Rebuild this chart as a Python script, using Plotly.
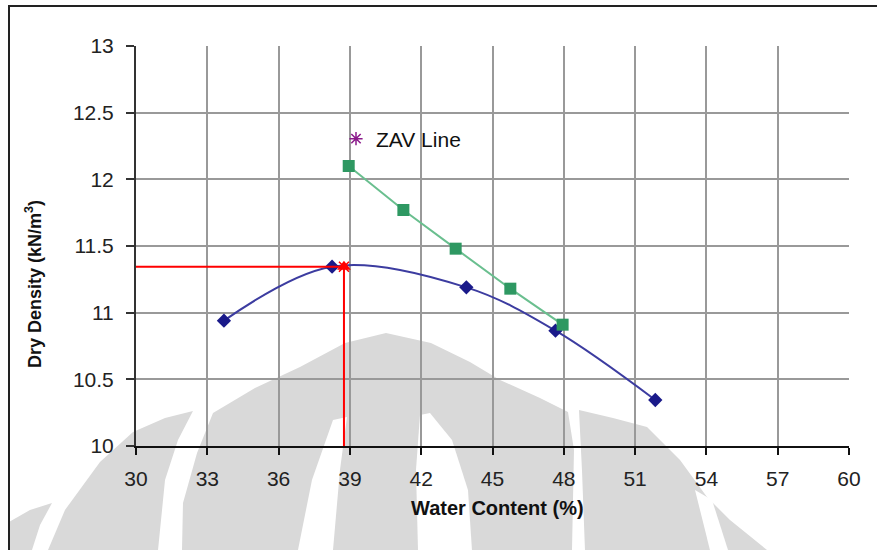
import plotly.graph_objects as go

# Compaction test results
water_content = [33.7, 38.25, 43.9, 47.65, 51.85]
dry_density = [10.94, 11.345, 11.19, 10.865, 10.345]

# Zero-air-voids line
zav_water = [38.95, 41.25, 43.45, 45.75, 47.95]
zav_density = [12.10, 11.77, 11.48, 11.18, 10.91]

# Optimum point
omc = 38.75
mdd = 11.345

x_ticks = [30, 33, 36, 39, 42, 45, 48, 51, 54, 57, 60]
y_ticks = [10, 10.5, 11, 11.5, 12, 12.5, 13]

W, H = 877, 550
L, R, T, B = 136, 28, 46, 104
PW, PH = W - L - R, H - T - B

FONT = "Arial, Liberation Sans, sans-serif"


def px(x, y):
    return (x - L) / PW, 1 - (y - T) / PH


def poly(points, color):
    pts = [px(x, y) for x, y in points]
    path = "M " + " L ".join(f"{a:.4f},{b:.4f}" for a, b in pts) + " Z"
    return dict(type="path", xref="paper", yref="paper", path=path,
                fillcolor=color, line=dict(width=0), layer="below")


fig = go.Figure()

fig.add_trace(go.Scatter(
    x=water_content, y=dry_density, mode="lines+markers",
    line=dict(color="#3c3ca0", width=2, shape="spline", smoothing=1.0),
    marker=dict(symbol="diamond", size=11, color="#1a1a8a"),
    showlegend=False,
))

fig.add_trace(go.Scatter(
    x=zav_water, y=zav_density, mode="lines+markers",
    line=dict(color="#6abf8f", width=2),
    marker=dict(symbol="square", size=12, color="#2e9862"),
    showlegend=False,
))

# Guide lines to the optimum point
fig.add_trace(go.Scatter(
    x=[x_ticks[0], omc, omc], y=[mdd, mdd, y_ticks[0]], mode="lines",
    line=dict(color="#ff0000", width=2), showlegend=False,
))
fig.add_trace(go.Scatter(
    x=[omc], y=[mdd], mode="markers",
    marker=dict(symbol="triangle-up", size=12, color="#ff0000"),
    showlegend=False,
))
fig.add_trace(go.Scatter(
    x=[omc], y=[mdd], mode="markers",
    marker=dict(symbol="x-thin-open", size=10, color="#ff0000",
                line=dict(color="#ff0000", width=1.5)),
    showlegend=False,
))

# Legend entry
fig.add_trace(go.Scatter(
    x=[None], y=[None], mode="markers", name="ZAV Line",
    marker=dict(symbol="asterisk-open", size=11, color="#8b1a8b",
                line=dict(color="#8b1a8b", width=1.5)),
))

shapes = [
    poly([(9, 550), (9, 522), (30, 510), (52, 503), (40, 525), (32, 550)], "#d9d9d9"),
    poly([(48, 550), (65, 510), (100, 462), (133, 432), (165, 418), (193, 411),
          (178, 440), (165, 480), (158, 550)], "#d9d9d9"),
    poly([(182, 550), (183, 503), (197, 453), (213, 413), (255, 388), (300, 367),
          (345, 343), (386, 333), (431, 343), (470, 362), (500, 380), (540, 398),
          (568, 412), (574, 450), (572, 550)], "#d9d9d9"),
    poly([(579, 410), (613, 418), (647, 427), (680, 460), (707, 497), (730, 520),
          (767, 550), (585, 550), (582, 470)], "#d9d9d9"),
    poly([(333, 420), (347, 417), (340, 470), (333, 550), (298, 550), (312, 480)], "#ffffff"),
    poly([(420, 415), (430, 413), (452, 440), (468, 490), (472, 550), (418, 550),
          (416, 470)], "#ffffff"),
    poly([(695, 490), (712, 500), (728, 550), (710, 550)], "#ffffff"),
]

# Chart frame
x0, y0 = px(9, 6)
x1, y1 = px(920, 600)
shapes.append(dict(type="rect", xref="paper", yref="paper", x0=x0, y0=y1, x1=x1, y1=y0,
                   line=dict(color="#222222", width=2), fillcolor="rgba(0,0,0,0)",
                   layer="above"))

tx, ty = px(497, 508)
yx, yy = px(33, 284)

fig.update_layout(
    width=W, height=H,
    margin=dict(l=L, r=R, t=T, b=B),
    paper_bgcolor="white", plot_bgcolor="white",
    font=dict(family=FONT, size=21, color="#222222"),
    shapes=shapes,
    showlegend=True,
    legend=dict(x=px(336, 0)[0], y=px(0, 139)[1], xanchor="left", yanchor="middle",
                bgcolor="rgba(0,0,0,0)", font=dict(size=21, color="#111111"),
                borderwidth=0),
    annotations=[
        dict(text="<b>Water Content (%)</b>", xref="paper", yref="paper",
             x=tx, y=ty, xanchor="center", yanchor="middle", showarrow=False,
             font=dict(size=20, color="#111111")),
        dict(text="<b>Dry Density (kN/m<sup>3</sup>)</b>", xref="paper", yref="paper",
             x=yx, y=yy, xanchor="center", yanchor="middle", showarrow=False,
             textangle=-90, font=dict(size=18, color="#111111")),
    ],
)

fig.update_xaxes(
    range=[30, 60], tickvals=x_ticks, ticktext=[str(v) for v in x_ticks],
    showgrid=True, gridcolor="#999999", gridwidth=2,
    showline=True, linecolor="#111111", linewidth=2,
    ticks="outside", ticklen=7, tickwidth=2, tickcolor="#111111",
    zeroline=False, ticklabelstandoff=6,
)
fig.update_yaxes(
    range=[10, 13], tickvals=y_ticks, ticktext=[f"{v:g}" for v in y_ticks],
    showgrid=True, gridcolor="#999999", gridwidth=2,
    showline=True, linecolor="#333333", linewidth=2,
    ticks="outside", ticklen=8, tickwidth=2, tickcolor="#333333",
    zeroline=False, ticklabelstandoff=8,
)

fig.write_html("out.html")
